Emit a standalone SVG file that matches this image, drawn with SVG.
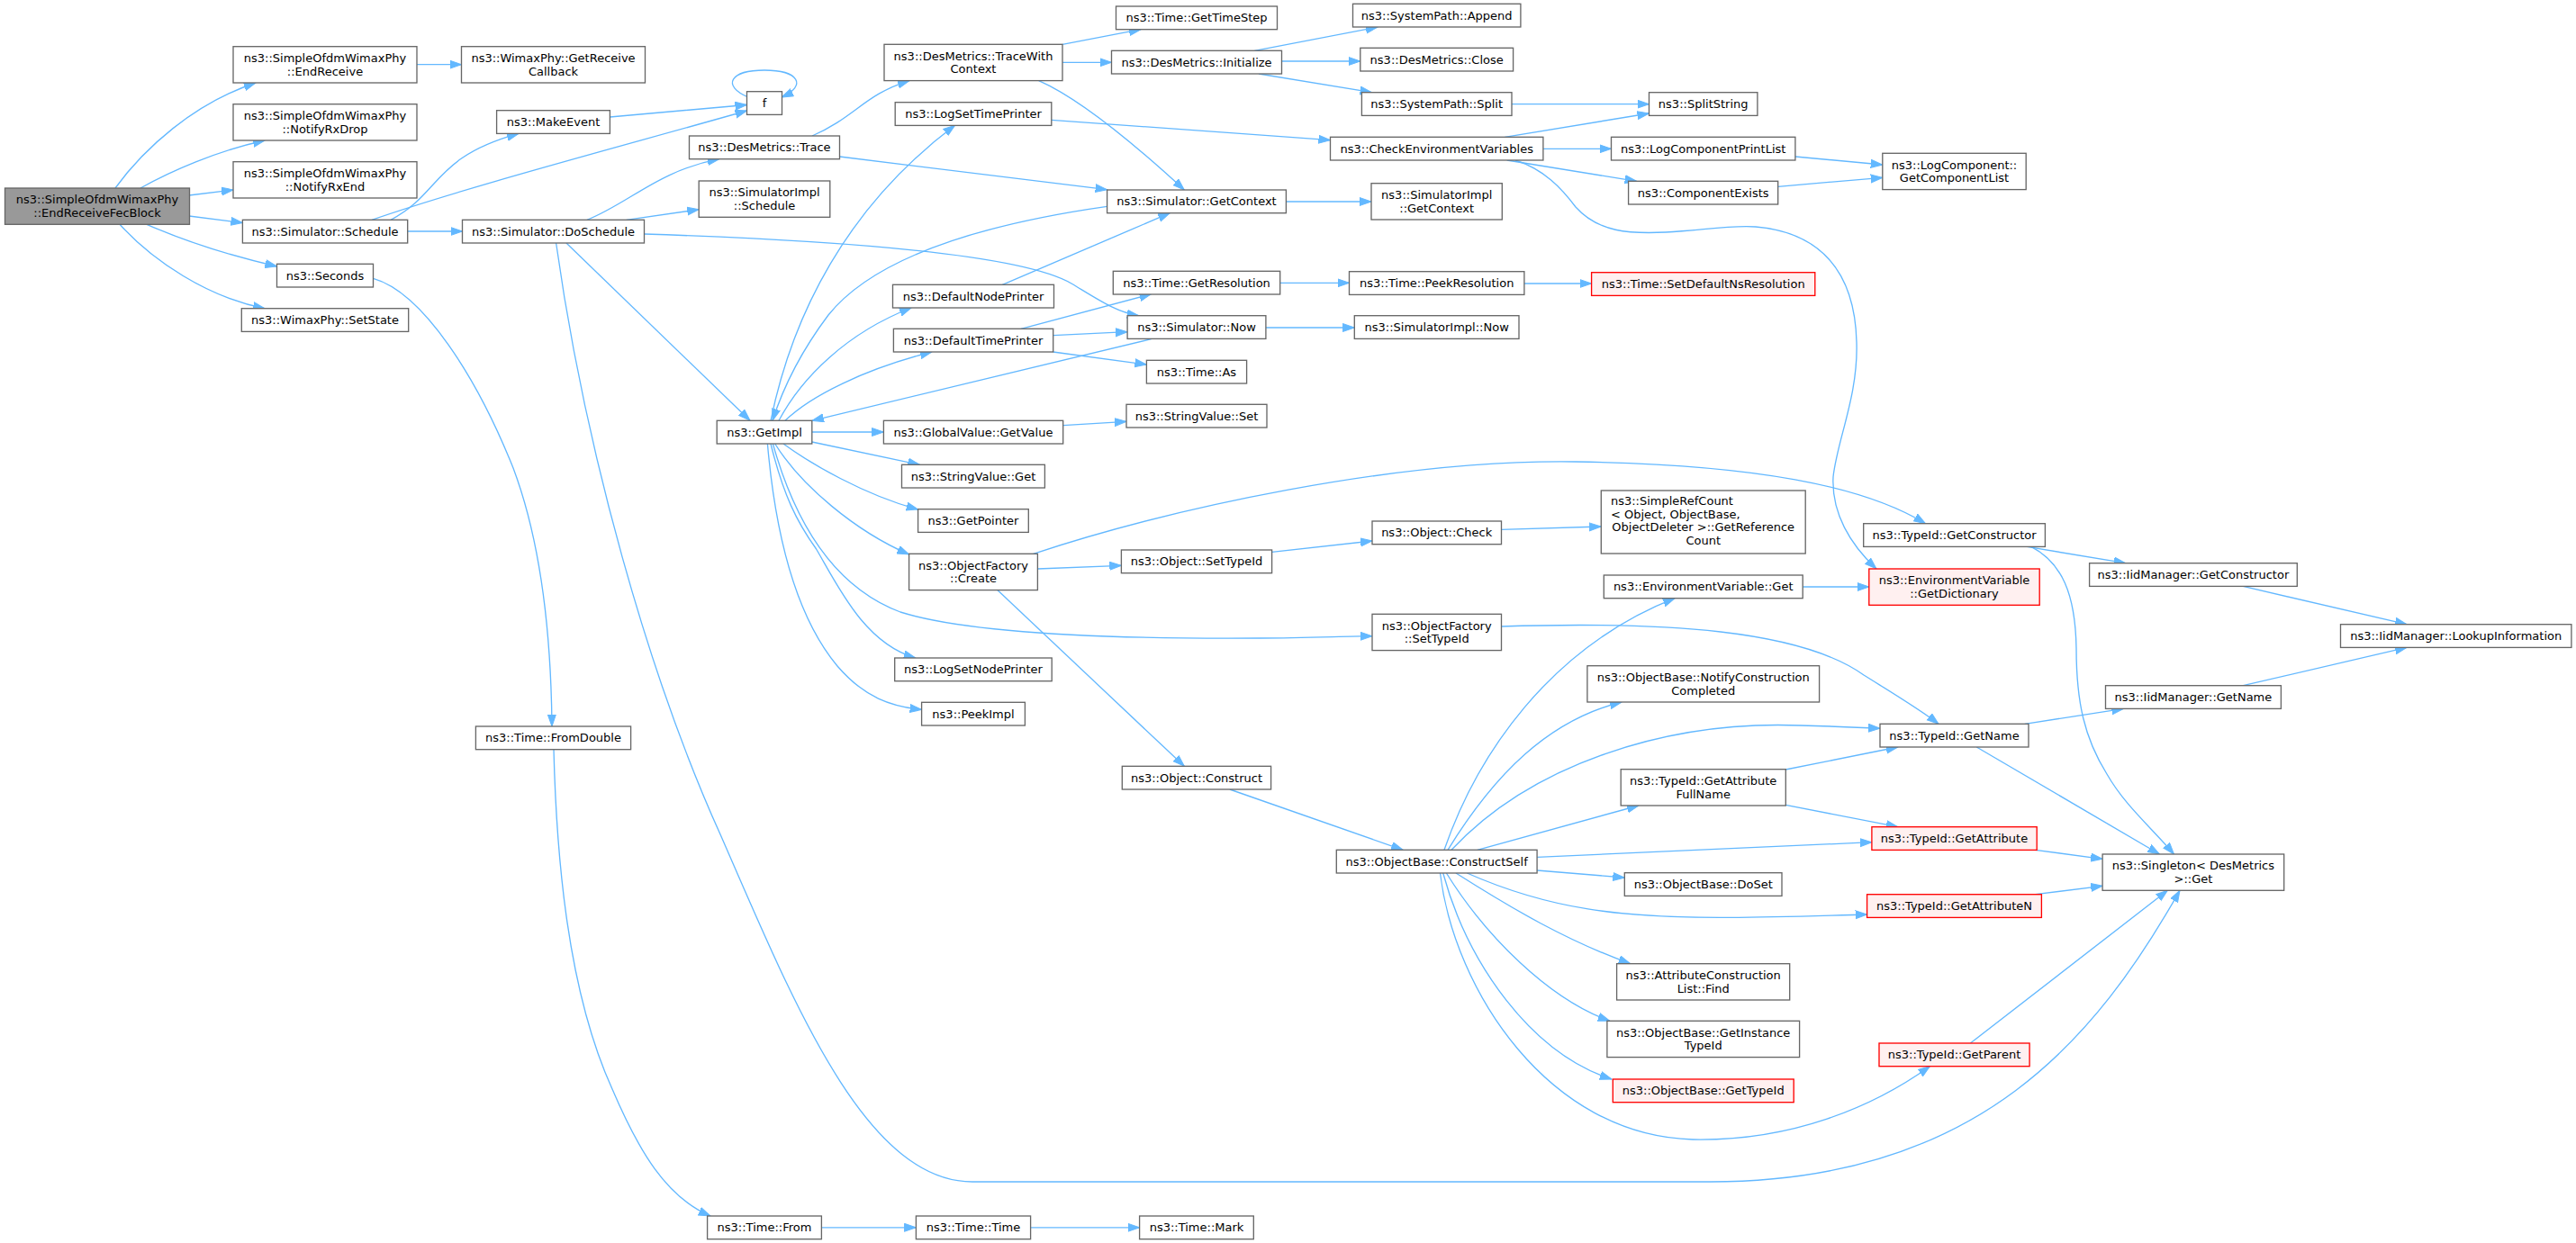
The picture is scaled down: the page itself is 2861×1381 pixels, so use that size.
<svg xmlns="http://www.w3.org/2000/svg" width="2861" height="1381" viewBox="0 0 2861 1381">
<style>
.node rect{fill:#ffffff;stroke:#666666;stroke-width:1.33}
.root rect{fill:#999999;stroke:#666666}
.red rect{fill:#fff0f0;stroke:#ff0000}
text{font-family:"DejaVu Sans","Liberation Sans",sans-serif;font-size:13px;fill:#000000;text-anchor:middle}
text.l{text-anchor:start}
#edges path{fill:none;stroke:#63b8ff;stroke-width:1.33;marker-end:url(#a)}
</style>
<defs>
<marker id="a" markerUnits="userSpaceOnUse" markerWidth="15" markerHeight="11" refX="13" refY="5" orient="auto">
<path d="M0,0.5 L13,5 L0,9.5 z" fill="#63b8ff" stroke="#63b8ff" stroke-width="1"/>
</marker>
</defs>
<rect width="2861" height="1381" fill="#ffffff"/>
<g id="edges">
<path d="M128,209 C160,165 215,115 284,92"/>
<path d="M156,209 C190,190 240,168 294,156"/>
<path d="M210,217 L259,211"/>
<path d="M210,240 L269.4,247.5"/>
<path d="M163,249.3 C210,270 260,285 307.5,296"/>
<path d="M133,249.3 C170,290 230,330 294,342.7"/>
<path d="M463,71.7 L512.5,71.7"/>
<path d="M434,244.3 C490,215 480,175 576,148.4"/>
<path d="M413,244.3 C520,207 700,160 829.5,123"/>
<path d="M677.4,130 C740,124 780,121 829.5,116.5"/>
<path d="M831,108 C801,95 811,78 849,78 C887,78 897,95 868,108"/>
<path d="M452.7,257 L513.5,257"/>
<path d="M652,244.3 C700,225 730,190 798.7,176.7"/>
<path d="M695.7,244.3 L776.2,232.7"/>
<path d="M715.5,260 C900,266 1130,280 1190,315 C1220,333 1240,347 1264.8,350.7"/>
<path d="M629,270 L833,467.3"/>
<path d="M617.6,270 C650,500 720,750 800,927 C880,1110 960,1313 1080,1313 L1900,1313 C2200,1313 2330,1150 2421,989.3"/>
<path d="M414.5,309.3 C470,325 530,420 570,520 C600,600 612,700 613,807"/>
<path d="M615,832.7 C618,950 630,1100 680,1210 C710,1280 740,1330 789,1351"/>
<path d="M912.4,1363.8 L1017.4,1363.8"/>
<path d="M1144.6,1363.8 L1265.6,1363.8"/>
<path d="M902,151 C950,130 960,105 1010,89.6"/>
<path d="M932.5,174 L1229.6,210.7"/>
<path d="M1180,49.3 L1267,32.7"/>
<path d="M1180,69.3 L1234.5,69.3"/>
<path d="M1153.7,89.6 C1200,110 1260,160 1315.3,211"/>
<path d="M1393.4,56.3 L1529.8,30.2"/>
<path d="M1423.5,68 L1510.8,68"/>
<path d="M1398,82 L1523.6,102.7"/>
<path d="M1679,115.7 L1831.5,115.7"/>
<path d="M1167.8,133.3 L1477.5,155.7"/>
<path d="M1671.3,152.3 L1831.5,126"/>
<path d="M1713.9,165.3 L1789.5,165.3"/>
<path d="M1673.7,178 L1817.6,201.3"/>
<path d="M1683,178 C1715,188 1735,210 1750,230 C1775,258 1810,260 1850,258 C1890,256 1920,250 1950,252 C2020,258 2060,300 2062,380 C2064,440 2040,490 2036,530 C2034,570 2055,605 2084,632"/>
<path d="M1993.9,174 L2090.8,183"/>
<path d="M1974.8,207.3 L2090.8,197.3"/>
<path d="M1428.4,224 L1523,224"/>
<path d="M1421.7,314.3 L1498.5,314.3"/>
<path d="M1692.9,315 L1767.6,315"/>
<path d="M1405.9,364 L1504.3,364"/>
<path d="M1113.3,316.3 L1299.3,236.7"/>
<path d="M1134,365.3 L1278.6,326.7"/>
<path d="M1169.6,372.7 L1252.1,368.7"/>
<path d="M1169.6,391 L1273.4,405"/>
<path d="M1278.6,376.7 L902,467.3"/>
<path d="M1229.6,229.3 C1050,255 960,300 920,350 C890,390 870,430 858,467.3"/>
<path d="M856,467.3 C880,350 940,230 1060.5,139.3"/>
<path d="M865,467.3 C890,420 940,370 1012,342"/>
<path d="M872,467.3 C900,440 960,410 1035,391"/>
<path d="M901.8,480 L981.4,480"/>
<path d="M901.8,491 L1021.4,516.3"/>
<path d="M870,493 C900,515 960,550 1019.6,566"/>
<path d="M860.7,493 C890,540 950,590 1009.6,616"/>
<path d="M858.4,493 C880,570 920,650 1000,680 C1080,705 1250,710 1400,709 C1450,709 1490,707 1524,706.7"/>
<path d="M856,493 C870,550 885,580 906.6,610 C930,650 960,715 1016.8,731"/>
<path d="M852.4,493 C860,580 880,680 930,740 C960,775 990,785 1023.6,788.3"/>
<path d="M1180.6,472.7 L1251,468.3"/>
<path d="M1152.4,632 L1245.4,628.3"/>
<path d="M1147.7,615.3 C1300,565 1550,510 1750,513 C1950,516 2070,540 2138.5,581.7"/>
<path d="M1107.8,655.6 L1315.3,851.3"/>
<path d="M1412.6,613.3 L1524,601"/>
<path d="M1667.5,588.3 L1778.3,585"/>
<path d="M1667.5,696 C1850,690 2000,700 2070,750 C2110,775 2135,790 2153,804.3"/>
<path d="M1365.8,877 L1558.2,944.3"/>
<path d="M2002.2,652 L2075.8,652"/>
<path d="M2251.2,607.4 L2360.8,625.7"/>
<path d="M2255.9,607.4 C2290,625 2305,660 2306,720 C2306,780 2315,820 2340,860 C2360,895 2390,920 2414.5,949"/>
<path d="M2491.3,651.4 L2673,693.7"/>
<path d="M2491.3,761.7 L2673,719.4"/>
<path d="M2248.9,804.3 L2358.4,787.4"/>
<path d="M2195.3,830 L2398.4,949"/>
<path d="M2260.5,944.3 L2335.1,954.3"/>
<path d="M2260.5,993.7 L2335.1,984.3"/>
<path d="M2188.4,1159 L2407.4,989.3"/>
<path d="M1604,944.3 C1640,840 1720,720 1860,664.7"/>
<path d="M1608,944.3 C1660,860 1720,800 1801,780"/>
<path d="M1612,944.3 C1700,850 1850,800 2000,806 C2040,807 2060,808 2088,809.3"/>
<path d="M1640.8,944.3 L1820,895"/>
<path d="M1707.1,952.3 L2078.9,935.7"/>
<path d="M1707.1,967 L1804.3,975"/>
<path d="M1629.3,970 C1720,1010 1800,1020 1920,1019.3 C1980,1019 2030,1017 2073.6,1016"/>
<path d="M1617,970 C1680,1010 1740,1045 1810.7,1070.7"/>
<path d="M1606.4,970 C1650,1040 1720,1110 1787.8,1134.3"/>
<path d="M1602.7,970 C1630,1070 1700,1170 1790,1199"/>
<path d="M1599.5,970 C1615,1100 1720,1262 1880,1266 C1990,1268 2080,1230 2143.4,1184.7"/>
<path d="M1983.3,855 L2107.8,830"/>
<path d="M1983.3,894.3 L2107.8,918.7"/>
</g>
<g id="n0" class="node root"><rect x="5.5" y="209" width="205" height="40.3"/><text x="108" y="226.4">ns3::SimpleOfdmWimaxPhy</text><text x="108" y="241">::EndReceiveFecBlock</text></g>
<g id="n1" class="node"><rect x="259" y="51.7" width="204" height="40.3"/><text x="361" y="69">ns3::SimpleOfdmWimaxPhy</text><text x="361" y="83.7">::EndReceive</text></g>
<g id="n2" class="node"><rect x="259" y="115.7" width="204" height="40.3"/><text x="361" y="133">ns3::SimpleOfdmWimaxPhy</text><text x="361" y="147.7">::NotifyRxDrop</text></g>
<g id="n3" class="node"><rect x="259" y="179.7" width="204" height="40.3"/><text x="361" y="197">ns3::SimpleOfdmWimaxPhy</text><text x="361" y="211.7">::NotifyRxEnd</text></g>
<g id="n4" class="node"><rect x="269.4" y="244.3" width="183.3" height="25.7"/><text x="361" y="261.7">ns3::Simulator::Schedule</text></g>
<g id="n5" class="node"><rect x="307.5" y="293.3" width="107" height="25.7"/><text x="361" y="310.7">ns3::Seconds</text></g>
<g id="n6" class="node"><rect x="268.3" y="342.7" width="185.4" height="25.7"/><text x="361" y="360">ns3::WimaxPhy::SetState</text></g>
<g id="n7" class="node"><rect x="512.5" y="51.7" width="204" height="40.3"/><text x="614.5" y="69">ns3::WimaxPhy::GetReceive</text><text x="614.5" y="83.7">Callback</text></g>
<g id="n8" class="node"><rect x="551.6" y="122.7" width="125.8" height="25.7"/><text x="614.5" y="140.1">ns3::MakeEvent</text></g>
<g id="n9" class="node"><rect x="513.5" y="244.3" width="202" height="25.7"/><text x="614.5" y="261.7">ns3::Simulator::DoSchedule</text></g>
<g id="n10" class="node"><rect x="829.5" y="101.7" width="39" height="25.7"/><text x="849" y="119.1">f</text></g>
<g id="n11" class="node"><rect x="765.5" y="151" width="167" height="25.7"/><text x="849" y="168.4">ns3::DesMetrics::Trace</text></g>
<g id="n12" class="node"><rect x="776.2" y="201" width="145.6" height="40.3"/><text x="849" y="218.4">ns3::SimulatorImpl</text><text x="849" y="233">::Schedule</text></g>
<g id="n13" class="node"><rect x="982" y="49.3" width="198" height="40.3"/><text x="1081" y="66.7">ns3::DesMetrics::TraceWith</text><text x="1081" y="81.3">Context</text></g>
<g id="n14" class="node"><rect x="994.2" y="113.7" width="173.6" height="25.7"/><text x="1081" y="131.1">ns3::LogSetTimePrinter</text></g>
<g id="n15" class="node"><rect x="991.5" y="316.3" width="179" height="25.7"/><text x="1081" y="333.7">ns3::DefaultNodePrinter</text></g>
<g id="n16" class="node"><rect x="992.4" y="365.3" width="177.3" height="25.7"/><text x="1081" y="382.7">ns3::DefaultTimePrinter</text></g>
<g id="n17" class="node"><rect x="1239.5" y="7" width="179" height="25.7"/><text x="1329" y="24.4">ns3::Time::GetTimeStep</text></g>
<g id="n18" class="node"><rect x="1234.5" y="56.3" width="189" height="25.7"/><text x="1329" y="73.7">ns3::DesMetrics::Initialize</text></g>
<g id="n19" class="node"><rect x="1229.6" y="211" width="198.8" height="25.7"/><text x="1329" y="228.4">ns3::Simulator::GetContext</text></g>
<g id="n20" class="node"><rect x="1236.3" y="301.3" width="185.4" height="25.7"/><text x="1329" y="318.7">ns3::Time::GetResolution</text></g>
<g id="n21" class="node"><rect x="1252.1" y="350.7" width="153.8" height="25.7"/><text x="1329" y="368.1">ns3::Simulator::Now</text></g>
<g id="n22" class="node"><rect x="1273.4" y="400.3" width="111.2" height="25.7"/><text x="1329" y="417.7">ns3::Time::As</text></g>
<g id="n23" class="node"><rect x="1251" y="449.3" width="156" height="25.7"/><text x="1329" y="466.7">ns3::StringValue::Set</text></g>
<g id="n24" class="node"><rect x="796.2" y="467.3" width="105.6" height="25.7"/><text x="849" y="484.7">ns3::GetImpl</text></g>
<g id="n25" class="node"><rect x="981.4" y="467.3" width="199.3" height="25.7"/><text x="1081" y="484.7">ns3::GlobalValue::GetValue</text></g>
<g id="n26" class="node"><rect x="1502.5" y="4.3" width="186.4" height="25.7"/><text x="1595.7" y="21.7">ns3::SystemPath::Append</text></g>
<g id="n27" class="node"><rect x="1510.8" y="53.3" width="169.8" height="25.7"/><text x="1595.7" y="70.7">ns3::DesMetrics::Close</text></g>
<g id="n28" class="node"><rect x="1512.4" y="102.7" width="166.6" height="25.7"/><text x="1595.7" y="120.1">ns3::SystemPath::Split</text></g>
<g id="n29" class="node"><rect x="1831.5" y="102.7" width="120.4" height="25.7"/><text x="1891.7" y="120.1">ns3::SplitString</text></g>
<g id="n30" class="node"><rect x="1477.5" y="152.3" width="236.4" height="25.7"/><text x="1595.7" y="169.7">ns3::CheckEnvironmentVariables</text></g>
<g id="n31" class="node"><rect x="1789.5" y="152.3" width="204.4" height="25.7"/><text x="1891.7" y="169.7">ns3::LogComponentPrintList</text></g>
<g id="n32" class="node"><rect x="1808.6" y="201.3" width="166.1" height="25.7"/><text x="1891.7" y="218.7">ns3::ComponentExists</text></g>
<g id="n33" class="node"><rect x="2090.8" y="170.3" width="159.4" height="40.3"/><text x="2170.5" y="187.7">ns3::LogComponent::</text><text x="2170.5" y="202.3">GetComponentList</text></g>
<g id="n34" class="node"><rect x="1523" y="203.7" width="145.3" height="40.3"/><text x="1595.7" y="221.1">ns3::SimulatorImpl</text><text x="1595.7" y="235.7">::GetContext</text></g>
<g id="n35" class="node"><rect x="1498.5" y="301.7" width="194.4" height="25.7"/><text x="1595.7" y="319.1">ns3::Time::PeekResolution</text></g>
<g id="n36" class="node red"><rect x="1767.6" y="302.7" width="248.2" height="25.7"/><text x="1891.7" y="320.1">ns3::Time::SetDefaultNsResolution</text></g>
<g id="n37" class="node"><rect x="1504.3" y="350.7" width="182.7" height="25.7"/><text x="1595.7" y="368.1">ns3::SimulatorImpl::Now</text></g>
<g id="n38" class="node"><rect x="1001.5" y="516.3" width="158.9" height="25.7"/><text x="1081" y="533.7">ns3::StringValue::Get</text></g>
<g id="n39" class="node"><rect x="1019.6" y="565.7" width="122.7" height="25.7"/><text x="1081" y="583.1">ns3::GetPointer</text></g>
<g id="n40" class="node"><rect x="1009.6" y="615.3" width="142.8" height="40.3"/><text x="1081" y="632.7">ns3::ObjectFactory</text><text x="1081" y="647.3">::Create</text></g>
<g id="n41" class="node"><rect x="1245.4" y="611" width="167.2" height="25.7"/><text x="1329" y="628.4">ns3::Object::SetTypeId</text></g>
<g id="n42" class="node"><rect x="993.7" y="731" width="174.5" height="25.7"/><text x="1081" y="748.4">ns3::LogSetNodePrinter</text></g>
<g id="n43" class="node"><rect x="1023.6" y="780.3" width="114.8" height="25.7"/><text x="1081" y="797.7">ns3::PeekImpl</text></g>
<g id="n44" class="node"><rect x="1246.3" y="851.3" width="165.3" height="25.7"/><text x="1329" y="868.7">ns3::Object::Construct</text></g>
<g id="n45" class="node"><rect x="1524" y="579" width="143.5" height="25.7"/><text x="1595.7" y="596.4">ns3::Object::Check</text></g>
<g id="n46" class="node"><rect x="1778.3" y="545" width="226.9" height="70"/><text class="l" x="1788.9" y="561">ns3::SimpleRefCount</text><text class="l" x="1788.9" y="575.7">&lt; Object, ObjectBase,</text><text x="1891.7" y="590.3">ObjectDeleter &gt;::GetReference</text><text x="1891.7" y="605">Count</text></g>
<g id="n47" class="node"><rect x="1781.3" y="639" width="220.9" height="25.7"/><text x="1891.7" y="656.4">ns3::EnvironmentVariable::Get</text></g>
<g id="n48" class="node"><rect x="1524" y="682.3" width="143.5" height="40.3"/><text x="1595.7" y="699.7">ns3::ObjectFactory</text><text x="1595.7" y="714.3">::SetTypeId</text></g>
<g id="n49" class="node"><rect x="1762.9" y="739.7" width="257.7" height="40.3"/><text x="1891.7" y="757.1">ns3::ObjectBase::NotifyConstruction</text><text x="1891.7" y="771.7">Completed</text></g>
<g id="n50" class="node"><rect x="1800.2" y="854.7" width="183.1" height="40.3"/><text x="1891.7" y="872.1">ns3::TypeId::GetAttribute</text><text x="1891.7" y="886.7">FullName</text></g>
<g id="n51" class="node"><rect x="2069.7" y="581.7" width="201.7" height="25.7"/><text x="2170.5" y="599.1">ns3::TypeId::GetConstructor</text></g>
<g id="n52" class="node red"><rect x="2075.8" y="632" width="189.4" height="40.3"/><text x="2170.5" y="649.4">ns3::EnvironmentVariable</text><text x="2170.5" y="664">::GetDictionary</text></g>
<g id="n53" class="node"><rect x="2088" y="804.3" width="165" height="25.7"/><text x="2170.5" y="821.7">ns3::TypeId::GetName</text></g>
<g id="n54" class="node red"><rect x="2078.9" y="918.7" width="183.3" height="25.7"/><text x="2170.5" y="936.1">ns3::TypeId::GetAttribute</text></g>
<g id="n55" class="node"><rect x="2320.6" y="625.7" width="230.7" height="25.7"/><text x="2435.9" y="643.1">ns3::IidManager::GetConstructor</text></g>
<g id="n56" class="node"><rect x="2599.5" y="693.7" width="256.4" height="25.7"/><text x="2727.7" y="711.1">ns3::IidManager::LookupInformation</text></g>
<g id="n57" class="node"><rect x="2338.5" y="761.7" width="194.9" height="25.7"/><text x="2435.9" y="779.1">ns3::IidManager::GetName</text></g>
<g id="n58" class="node"><rect x="1484.3" y="944.3" width="222.8" height="25.7"/><text x="1595.7" y="961.7">ns3::ObjectBase::ConstructSelf</text></g>
<g id="n59" class="node"><rect x="1804.3" y="969.7" width="174.7" height="25.7"/><text x="1891.7" y="987.1">ns3::ObjectBase::DoSet</text></g>
<g id="n60" class="node"><rect x="1795.6" y="1070.7" width="192.1" height="40.3"/><text x="1891.7" y="1088.1">ns3::AttributeConstruction</text><text x="1891.7" y="1102.7">List::Find</text></g>
<g id="n61" class="node"><rect x="1784.9" y="1134.3" width="213.7" height="40.3"/><text x="1891.7" y="1151.7">ns3::ObjectBase::GetInstance</text><text x="1891.7" y="1166.3">TypeId</text></g>
<g id="n62" class="node red"><rect x="1791.3" y="1199" width="200.9" height="25.7"/><text x="1891.7" y="1216.4">ns3::ObjectBase::GetTypeId</text></g>
<g id="n63" class="node red"><rect x="2073.6" y="993.7" width="193.8" height="25.7"/><text x="2170.5" y="1011.1">ns3::TypeId::GetAttributeN</text></g>
<g id="n64" class="node red"><rect x="2087" y="1159" width="167.1" height="25.7"/><text x="2170.5" y="1176.4">ns3::TypeId::GetParent</text></g>
<g id="n65" class="node"><rect x="2335.1" y="949" width="201.6" height="40.3"/><text x="2435.9" y="966.4">ns3::Singleton&lt; DesMetrics</text><text x="2435.9" y="981">&gt;::Get</text></g>
<g id="n66" class="node"><rect x="528.4" y="807" width="172.2" height="25.7"/><text x="614.5" y="824.4">ns3::Time::FromDouble</text></g>
<g id="n67" class="node"><rect x="785.6" y="1351" width="126.8" height="25.7"/><text x="849" y="1368.4">ns3::Time::From</text></g>
<g id="n68" class="node"><rect x="1017.4" y="1351" width="127.2" height="25.7"/><text x="1081" y="1368.4">ns3::Time::Time</text></g>
<g id="n69" class="node"><rect x="1265.6" y="1351" width="126.7" height="25.7"/><text x="1329" y="1368.4">ns3::Time::Mark</text></g>
</svg>
